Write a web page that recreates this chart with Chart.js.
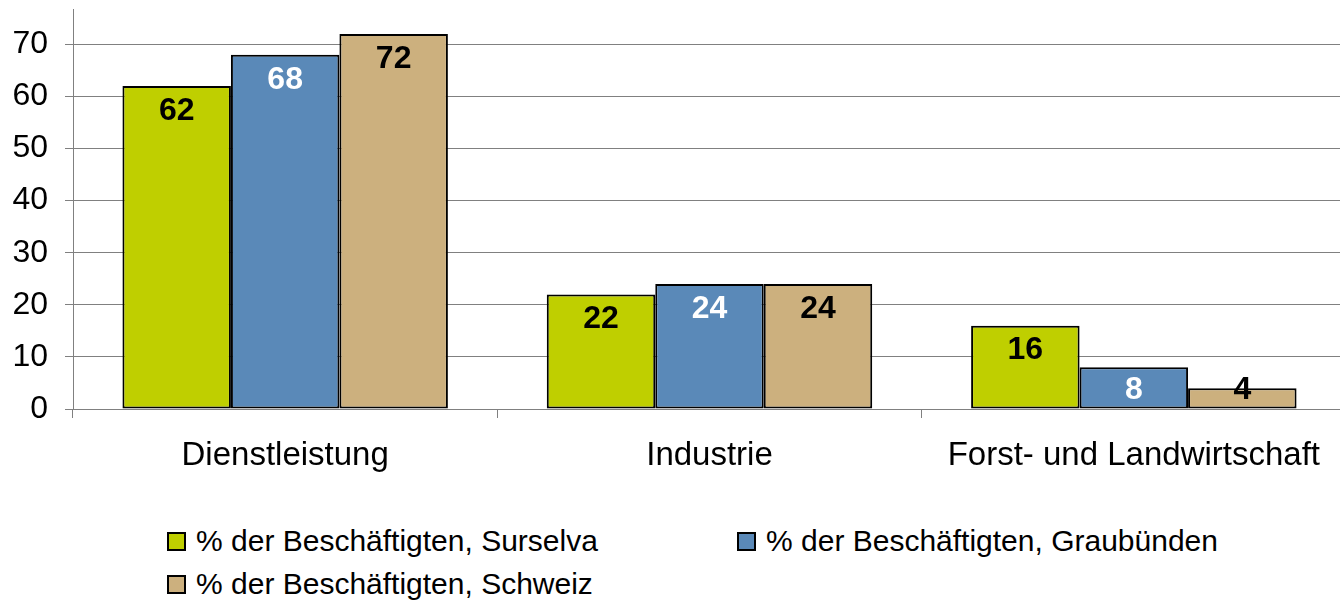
<!DOCTYPE html>
<html>
<head>
<meta charset="utf-8">
<script src="https://cdn.jsdelivr.net/npm/chart.js@4"></script>
<style>
  html, body { margin: 0; padding: 0; background: #fff; overflow: hidden; }
  body { width: 1340px; height: 602px; position: relative; font-family: "Liberation Sans", Arial, sans-serif; }
  #wrap { position: absolute; left: 0; top: 0; width: 1346px; height: 500px; }
  #legend { position: absolute; left: 167px; top: 524px; display: grid;
            grid-template-columns: 570px auto; row-gap: 9px; }
  .item { display: flex; align-items: center; height: 34px; font-size: 30px; color: #000; white-space: nowrap; }
  .box { width: 15px; height: 15px; border: 2px solid #000; margin-right: 10px; }
</style>
</head>
<body>
<div id="wrap"><canvas id="chart"></canvas></div>
<div id="legend"></div>
<script>
// categories and series
const categories = ['Dienstleistung', 'Industrie', 'Forst- und Landwirtschaft'];
const surselva = [62, 22, 16];
const graubuenden = [68, 24, 8];
const schweiz = [72, 24, 4];
const seriesNames = [
  '% der Beschäftigten, Surselva',
  '% der Beschäftigten, Graubünden',
  '% der Beschäftigten, Schweiz'
];
const yTicks = [0, 10, 20, 30, 40, 50, 60, 70];

const colors = ['#BFCF00', '#5A89B8', '#CCB07E'];
const labelColors = ['#000', '#fff', '#000'];
const font = '"Liberation Sans", Arial, sans-serif';

// value labels inside the top of every bar
const valueLabels = {
  id: 'valueLabels',
  afterDatasetsDraw(chart) {
    const ctx = chart.ctx;
    ctx.save();
    ctx.font = 'bold 32px ' + font;
    ctx.textAlign = 'center';
    ctx.textBaseline = 'middle';
    chart.data.datasets.forEach((ds, i) => {
      const meta = chart.getDatasetMeta(i);
      meta.data.forEach((bar, j) => {
        const y = Math.min(bar.y + 25, bar.base - 18);
        ctx.fillStyle = labelColors[i];
        ctx.fillText(ds.data[j], bar.x, y);
      });
    });
    ctx.restore();
  }
};

const datasets = [surselva, graubuenden, schweiz].map((data, i) => ({
  label: seriesNames[i],
  data,
  backgroundColor: colors[i],
  borderColor: '#000',
  borderWidth: 2,
  borderSkipped: false,
  categoryPercentage: 0.767,
  barPercentage: 1
}));

const chart = new Chart(document.getElementById('chart'), {
  type: 'bar',
  data: { labels: categories, datasets },
  plugins: [valueLabels],
  options: {
    responsive: true,
    maintainAspectRatio: false,
    animation: false,
    layout: { padding: { top: 9, left: 0, right: 0, bottom: 0 } },
    plugins: {
      legend: { display: false },
      tooltip: { enabled: false }
    },
    scales: {
      x: {
        grid: { display: true, offset: true, drawOnChartArea: false, color: '#808080', tickLength: 9 },
        border: { display: false },
        ticks: { color: '#000', font: { family: font, size: 33 }, padding: 18, maxRotation: 0 },
        afterFit(scale) { scale.height = 91; scale.paddingLeft = 0; scale.paddingRight = 0; }
      },
      y: {
        min: 0,
        max: 76.8,
        afterBuildTicks(scale) { scale.ticks = yTicks.map(v => ({ value: v })); },
        grid: { color: '#808080', tickLength: 8 },
        border: { display: true, color: '#808080' },
        ticks: { color: '#000', font: { family: font, size: 32 }, padding: 17 },
        afterFit(scale) { scale.width = 73; scale.paddingTop = 0; scale.paddingBottom = 0; }
      }
    }
  }
});

// legend laid out like the original, two columns
const legend = document.getElementById('legend');
seriesNames.forEach((name, i) => {
  const item = document.createElement('div');
  item.className = 'item';
  item.innerHTML = '<span class="box" style="background:' + colors[i] + '"></span>' + name;
  legend.appendChild(item);
});
</script>
</body>
</html>
